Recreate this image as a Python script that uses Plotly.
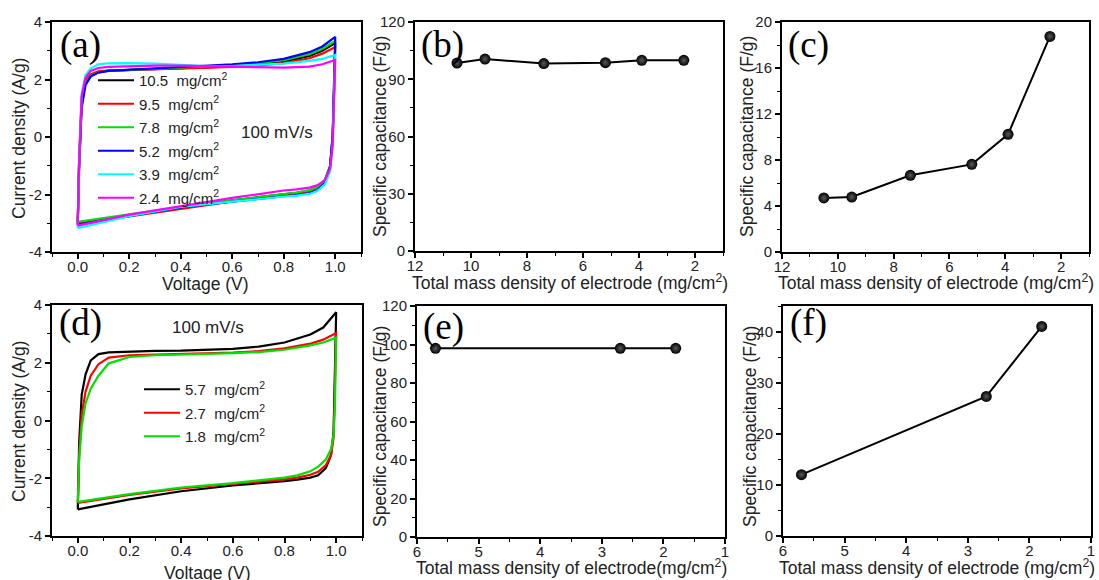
import plotly.graph_objects as go

W, H = 1099, 580

# ---------------- data ----------------
# CV voltage grids (V)
V_up = [0, 0.005, 0.015, 0.03, 0.05, 0.08, 0.12, 0.2, 0.3, 0.4, 0.5, 0.6, 0.7, 0.8, 0.9, 0.95, 1.0]
V_down = [1.0, 0.995, 0.99, 0.98, 0.96, 0.93, 0.9, 0.85, 0.8, 0.6, 0.4, 0.2, 0.0]

# panel (a) currents (A/g)
a_labels = ["10.5", "9.5", "7.8", "5.2", "3.9", "2.4"]
a_colors = ["#000000", "#ff0000", "#00e000", "#0000ff", "#00ffff", "#ff00ff"]
a_I_up = [
    [-3.0, -1.0, 1.2, 1.9, 2.15, 2.27, 2.31, 2.33, 2.36, 2.39, 2.42, 2.46, 2.52, 2.62, 2.82, 3.0, 3.27],
    [-3.02, -0.9, 1.3, 1.95, 2.18, 2.28, 2.31, 2.33, 2.35, 2.38, 2.41, 2.44, 2.49, 2.57, 2.74, 2.9, 3.13],
    [-2.95, -1.0, 1.1, 1.85, 2.12, 2.25, 2.3, 2.33, 2.37, 2.41, 2.45, 2.5, 2.57, 2.67, 2.88, 3.07, 3.34],
    [-3.05, -1.2, 1.0, 1.8, 2.1, 2.24, 2.3, 2.34, 2.38, 2.42, 2.47, 2.53, 2.6, 2.72, 2.95, 3.15, 3.48],
    [-3.17, -1.0, 1.5, 2.15, 2.38, 2.53, 2.56, 2.57, 2.55, 2.5, 2.47, 2.47, 2.5, 2.55, 2.65, 2.72, 2.85],
    [-3.08, -1.0, 1.4, 2.05, 2.3, 2.4, 2.44, 2.46, 2.48, 2.48, 2.46, 2.43, 2.41, 2.41, 2.45, 2.53, 2.68],
]
a_I_down = [
    [3.27, 1.5, 0.0, -1.0, -1.5, -1.75, -1.86, -1.94, -1.99, -2.2, -2.45, -2.72, -3.0],
    [3.13, 1.4, -0.1, -1.05, -1.52, -1.77, -1.88, -1.96, -2.01, -2.24, -2.5, -2.75, -3.02],
    [3.34, 1.5, 0.0, -1.0, -1.5, -1.74, -1.85, -1.93, -1.98, -2.2, -2.43, -2.68, -2.95],
    [3.48, 1.6, 0.1, -1.05, -1.6, -1.85, -1.95, -2.02, -2.06, -2.25, -2.45, -2.75, -3.05],
    [2.85, 1.0, -0.3, -1.2, -1.65, -1.88, -1.98, -2.04, -2.07, -2.25, -2.43, -2.75, -3.17],
    [2.68, 0.9, -0.3, -1.1, -1.5, -1.68, -1.76, -1.82, -1.86, -2.12, -2.4, -2.7, -3.08],
]

# panel (d) currents (A/g)
d_labels = ["5.7", "2.7", "1.8"]
d_colors = ["#000000", "#ff0000", "#00e000"]
d_I_up = [
    [-3.08, -0.8, 0.9, 1.6, 2.08, 2.3, 2.36, 2.39, 2.41, 2.42, 2.44, 2.48, 2.56, 2.7, 2.98, 3.22, 3.75],
    [-2.85, -1.2, 0.2, 1.0, 1.55, 1.95, 2.18, 2.26, 2.28, 2.3, 2.32, 2.35, 2.4, 2.5, 2.66, 2.8, 3.03],
    [-2.82, -1.4, -0.2, 0.6, 1.1, 1.55, 1.98, 2.2, 2.26, 2.28, 2.3, 2.33, 2.37, 2.45, 2.6, 2.7, 2.87],
]
d_I_down = [
    [3.75, 1.0, -0.4, -1.2, -1.65, -1.9, -1.98, -2.05, -2.1, -2.25, -2.45, -2.73, -3.08],
    [3.03, 0.6, -0.6, -1.2, -1.55, -1.78, -1.88, -1.98, -2.04, -2.2, -2.35, -2.58, -2.85],
    [2.87, 0.4, -0.5, -1.0, -1.35, -1.6, -1.76, -1.9, -1.98, -2.17, -2.32, -2.55, -2.82],
]

# specific capacitance panels
b_mass = [10.5, 9.5, 7.4, 5.2, 3.9, 2.4]
b_cap = [98.5, 100.6, 98.2, 98.7, 99.9, 99.9]
c_mass = [10.5, 9.5, 7.4, 5.2, 3.9, 2.4]
c_cap = [4.70, 4.78, 6.67, 7.62, 10.23, 18.75]
e_mass = [5.7, 2.7, 1.8]
e_cap = [98.0, 98.0, 98.0]
f_mass = [5.7, 2.7, 1.8]
f_cap = [12.0, 27.3, 41.0]

# tick labels
cv_x_ticks = [0.0, 0.2, 0.4, 0.6, 0.8, 1.0]
cv_x_text = ["0.0", "0.2", "0.4", "0.6", "0.8", "1.0"]
cv_y_ticks = [-4, -2, 0, 2, 4]
cv_y_text = ["-4", "-2", "0", "2", "4"]

# ---------------- figure ----------------
fig = go.Figure()

def px_x(p):
    return p / W

def px_y(p):
    return 1 - p / H

TICKFONT = dict(family="Liberation Sans, Arial, sans-serif", size=15, color="#222")

def minor(dt, t0=0):
    return dict(ticks="outside", ticklen=3, tickwidth=1.2, tickcolor="black", dtick=dt, tick0=t0, showgrid=False)

def axis(dom, rng, **kw):
    d = dict(
        domain=dom, range=rng, showline=True, linecolor="black", linewidth=2,
        mirror=True, ticks="outside", ticklen=5, tickwidth=1.5, tickcolor="black",
        showgrid=False, zeroline=False, tickfont=TICKFONT, automargin=False,
    )
    d.update(kw)
    return d

def xaxis(dom, rng, **kw):
    return axis(dom, rng, ticklabelstandoff=-5, **kw)

panels = {
    "a": ((52, 361), (22, 252)),
    "b": ((415, 723), (22, 251)),
    "c": ((782, 1089), (22, 252)),
    "d": ((52, 362), (305, 536)),
    "e": ((417, 725), (306, 537)),
    "f": ((783, 1091), (306, 536)),
}

def doms(key):
    (x0, x1), (y0, y1) = panels[key]
    return [px_x(x0), px_x(x1)], [px_y(y1), px_y(y0)]

layout = dict(
    width=W, height=H, margin=dict(l=0, r=0, t=0, b=0, pad=0, autoexpand=False),
    paper_bgcolor="white", plot_bgcolor="white", showlegend=True,
)

# (a)
xd, yd = doms("a")
layout["xaxis"] = xaxis(xd, [-0.1, 1.1], anchor="y", tickvals=cv_x_ticks, ticktext=cv_x_text, minor=minor(0.1))
layout["yaxis"] = axis(yd, [-4, 4], anchor="x", tickvals=cv_y_ticks, ticktext=cv_y_text, minor=minor(1))
for i, (lab, col, iu, idn) in enumerate(zip(a_labels, a_colors, a_I_up, a_I_down)):
    fig.add_trace(go.Scatter(
        x=V_up + V_down, y=iu + idn, mode="lines", line=dict(color=col, width=2.2),
        name=lab + "\u00a0\u00a0mg/cm<sup>2</sup>", xaxis="x", yaxis="y",
        legend="legend", legendgroup="a%d" % i))

# (b)
xd, yd = doms("b")
layout["xaxis2"] = xaxis(xd, [12, 1], anchor="y2", dtick=2, tick0=0, minor=minor(1))
layout["yaxis2"] = axis(yd, [0, 120], anchor="x2", dtick=30, tick0=0, minor=minor(15))

# (c)
xd, yd = doms("c")
layout["xaxis3"] = xaxis(xd, [12, 1], anchor="y3", dtick=2, tick0=0, minor=minor(1))
layout["yaxis3"] = axis(yd, [0, 20], anchor="x3", dtick=4, tick0=0, minor=minor(2))

# (d)
xd, yd = doms("d")
layout["xaxis4"] = xaxis(xd, [-0.1, 1.1], anchor="y4", tickvals=cv_x_ticks, ticktext=cv_x_text, minor=minor(0.1))
layout["yaxis4"] = axis(yd, [-4, 4], anchor="x4", tickvals=cv_y_ticks, ticktext=cv_y_text, minor=minor(1))
for i, (lab, col, iu, idn) in enumerate(zip(d_labels, d_colors, d_I_up, d_I_down)):
    fig.add_trace(go.Scatter(
        x=V_up + V_down, y=iu + idn, mode="lines", line=dict(color=col, width=2.2),
        name=lab + "\u00a0\u00a0mg/cm<sup>2</sup>", xaxis="x4", yaxis="y4",
        legend="legend2", legendgroup="d%d" % i))

# (e)
xd, yd = doms("e")
layout["xaxis5"] = xaxis(xd, [6, 1], anchor="y5", dtick=1, tick0=0, minor=minor(0.5))
layout["yaxis5"] = axis(yd, [0, 120], anchor="x5", dtick=20, tick0=0, minor=minor(10))

# (f)
xd, yd = doms("f")
layout["xaxis6"] = xaxis(xd, [6, 1], anchor="y6", dtick=1, tick0=0, minor=minor(0.5))
layout["yaxis6"] = axis(yd, [0, 45], anchor="x6", dtick=10, tick0=0, minor=minor(5))

MARKER = dict(color="black", size=11, gradient=dict(type="radial", color="#5a5a5a"))
for xs, ys, ax in [(b_mass, b_cap, "2"), (c_mass, c_cap, "3"), (e_mass, e_cap, "5"), (f_mass, f_cap, "6")]:
    fig.add_trace(go.Scatter(
        x=xs, y=ys, mode="lines+markers", line=dict(color="black", width=2),
        marker=MARKER, xaxis="x" + ax, yaxis="y" + ax, showlegend=False))

LEGFONT = dict(family="Liberation Sans, Arial, sans-serif", size=15, color="#222")
layout["legend"] = dict(x=px_x(93), y=px_y(64), xanchor="left", yanchor="top",
                        bgcolor="rgba(0,0,0,0)", borderwidth=0, font=LEGFONT,
                        itemwidth=36, tracegroupgap=1)
layout["legend2"] = dict(x=px_x(139), y=px_y(373), xanchor="left", yanchor="top",
                         bgcolor="rgba(0,0,0,0)", borderwidth=0, font=LEGFONT,
                         itemwidth=36, tracegroupgap=1)

fig.update_layout(**layout)

# ---------------- text annotations ----------------
SANS = "Liberation Sans, Arial, sans-serif"
SERIF = "Liberation Serif, Times New Roman, serif"

def note(text, x, y, size, family=SANS, angle=0, color="#222"):
    fig.add_annotation(text=text, x=px_x(x), y=px_y(y), xref="paper", yref="paper",
                       showarrow=False, textangle=angle, xanchor="center", yanchor="middle",
                       font=dict(family=family, size=size, color=color))

# panel labels
for t, x, y in [("(a)", 80, 45), ("(b)", 442, 45), ("(c)", 808, 45),
                ("(d)", 80, 323), ("(e)", 443, 327), ("(f)", 808, 323)]:
    note(t, x, y, 37, SERIF, color="black")

note("100 mV/s", 277, 133, 17)
note("100 mV/s", 208, 327, 17)

# axis titles
mass_title = "Total mass density of electrode (mg/cm<sup>2</sup>)"
note("Voltage (V)", 205, 284, 17.5)
note("Voltage (V)", 207, 573, 17.5)
note(mass_title, 570, 282, 17.5)
note(mass_title, 936, 282, 17.5)
note("Total mass density of electrode(mg/cm<sup>2</sup>)", 571, 567, 17.5)
note(mass_title, 937, 567, 17.5)
note("Current density (A/g)", 19, 139, 17.5, angle=-90)
note("Current density (A/g)", 19, 422, 17.5, angle=-90)
note("Specific capacitance (F/g)", 380, 137, 17.5, angle=-90)
note("Specific capacitance (F/g)", 747, 137, 17.5, angle=-90)
note("Specific capacitance (F/g)", 380, 427, 17.5, angle=-90)
note("Specific capacitance (F/g)", 750, 427, 17.5, angle=-90)

fig.write_html("out.html", config={"displayModeBar": False},
               post_script="document.body.style.margin='0px';document.body.style.overflow='hidden';")
